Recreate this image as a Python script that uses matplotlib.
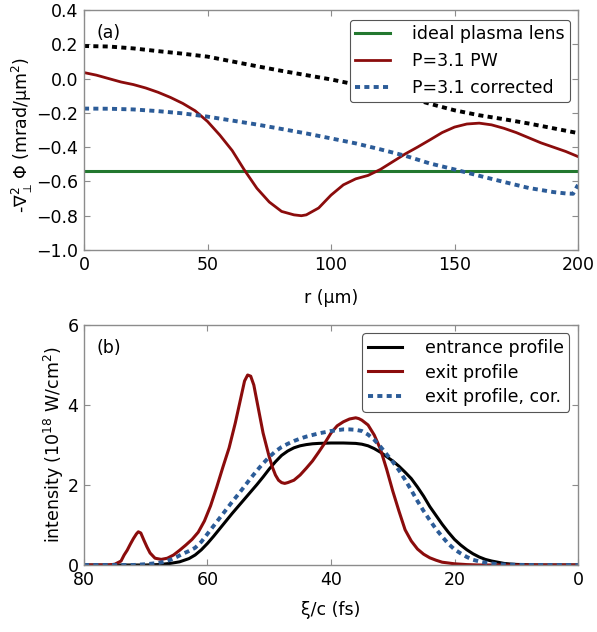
import matplotlib
matplotlib.use("Agg")
import matplotlib.pyplot as plt
import numpy as np

# ---------------- Panel (a) data ----------------
r_black = [0, 10, 20, 30, 40, 50, 60, 70, 80, 90, 100, 110, 120, 130, 140, 150, 160, 170, 180, 190, 200]
phi_black = [0.19, 0.187, 0.176, 0.16, 0.145, 0.128, 0.10, 0.072, 0.045, 0.02, -0.005, -0.035, -0.068,
             -0.105, -0.147, -0.185, -0.214, -0.237, -0.262, -0.29, -0.318]

r_red = [0, 5, 10, 15, 20, 25, 30, 35, 40, 45, 50, 55, 60, 65, 70, 75, 80, 85, 88, 90, 95, 100,
         105, 110, 115, 120, 125, 130, 135, 140, 145, 150, 155, 160, 165, 170, 175, 180, 185, 190, 195, 200]
phi_red = [0.035, 0.02, 0.0, -0.02, -0.035, -0.055, -0.08, -0.11, -0.145, -0.188, -0.25, -0.33, -0.42,
           -0.535, -0.64, -0.72, -0.775, -0.795, -0.80, -0.795, -0.755, -0.68, -0.62, -0.585, -0.565,
           -0.53, -0.485, -0.44, -0.40, -0.358, -0.315, -0.283, -0.265, -0.26, -0.27, -0.29, -0.315,
           -0.345, -0.375, -0.40, -0.425, -0.455]

r_blue = [0, 10, 20, 30, 40, 50, 60, 70, 80, 90, 100, 110, 120, 130, 140, 150, 160, 170, 180, 190, 195, 198, 200]
phi_blue = [-0.175, -0.176, -0.18, -0.19, -0.203, -0.222, -0.245, -0.268, -0.294, -0.32, -0.349, -0.378,
            -0.413, -0.45, -0.495, -0.53, -0.567, -0.603, -0.638, -0.662, -0.67, -0.672, -0.62]

ideal_lens = -0.54

# ---------------- Panel (b) data ----------------
xi_entr = [80, 70, 68, 66, 64.5, 63, 62, 61, 60, 59, 58, 57, 56, 55, 54, 53, 52, 51, 50, 49, 48, 47, 46, 45,
           44, 43, 42, 40, 38, 36, 35, 34, 33, 32, 31, 30, 29, 28, 27, 26, 25, 24, 23, 22, 21, 20, 19, 18,
           17, 16, 15, 14, 13, 12, 11, 10, 8, 6, 0]
I_entr = [0, 0, 0.01, 0.04, 0.08, 0.16, 0.25, 0.38, 0.54, 0.72, 0.91, 1.10, 1.29, 1.47, 1.65, 1.83, 2.01,
          2.20, 2.40, 2.58, 2.74, 2.85, 2.93, 2.98, 3.01, 3.03, 3.04, 3.05, 3.05, 3.04, 3.02, 2.98, 2.91,
          2.82, 2.71, 2.60, 2.47, 2.32, 2.16, 1.95, 1.72, 1.46, 1.24, 1.02, 0.82, 0.64, 0.50, 0.38, 0.28,
          0.20, 0.14, 0.10, 0.07, 0.04, 0.025, 0.015, 0.005, 0, 0]

xi_exit = [80, 76, 75, 74, 73.5, 73, 72.5, 72, 71.5, 71.2, 70.8, 70.3, 69.8, 69.3, 68.5, 67.5, 66.5, 65.5,
           64.5, 63.5, 62.5, 61.5, 60.5, 59.5, 58.5, 57.5, 56.5, 55.5, 54.5, 54, 53.5, 53, 52.5, 52, 51.5,
           51, 50.5, 50, 49.5, 49, 48.5, 48, 47.5, 47, 46, 45, 44, 43, 42, 41, 40, 39, 38, 37, 36, 35.5,
           35, 34, 33, 32, 31, 30, 29, 28, 27, 26, 25, 24, 23, 22, 21, 20, 19, 18, 16, 0]
I_exit = [0, 0, 0.02, 0.10, 0.25, 0.37, 0.52, 0.66, 0.78, 0.83, 0.80, 0.62, 0.45, 0.30, 0.17, 0.14, 0.17,
          0.25, 0.37, 0.50, 0.64, 0.82, 1.10, 1.48, 1.95, 2.45, 2.93, 3.55, 4.25, 4.60, 4.75, 4.72, 4.50,
          4.10, 3.70, 3.30, 3.00, 2.70, 2.45, 2.25, 2.12, 2.06, 2.04, 2.06, 2.12, 2.25, 2.42, 2.60, 2.82,
          3.05, 3.30, 3.48, 3.58, 3.65, 3.68, 3.66, 3.62, 3.50, 3.25, 2.90, 2.40, 1.85, 1.35, 0.88, 0.60,
          0.40, 0.27, 0.18, 0.12, 0.07, 0.05, 0.03, 0.02, 0.01, 0, 0]

xi_cor = [80, 72, 70, 68, 67, 66, 65, 64, 63, 62, 61, 60, 59, 58, 57, 56, 55, 54, 53, 52, 51, 50, 49, 48,
          47, 46, 45, 44, 43, 42, 41, 40, 39, 38, 37, 36, 35, 34, 33, 32, 31, 30, 29, 28, 27, 26, 25, 24,
          23, 22, 21, 20, 19, 18, 17, 16, 15, 14, 13, 12, 10, 8, 0]
I_cor = [0, 0, 0.02, 0.05, 0.08, 0.13, 0.20, 0.28, 0.35, 0.43, 0.58, 0.78, 0.98, 1.18, 1.38, 1.58, 1.77,
         1.97, 2.17, 2.36, 2.54, 2.70, 2.84, 2.95, 3.03, 3.10, 3.16, 3.21, 3.25, 3.29, 3.32, 3.35, 3.37,
         3.39, 3.39, 3.38, 3.35, 3.26, 3.13, 2.96, 2.77, 2.58, 2.37, 2.13, 1.87, 1.60, 1.35, 1.12, 0.90,
         0.71, 0.53, 0.39, 0.29, 0.20, 0.13, 0.09, 0.06, 0.04, 0.02, 0.012, 0.005, 0, 0]

# ---------------- styling ----------------
C_GREEN = '#23782f'
C_RED = '#8b0c0c'
C_BLUE = '#2c5c98'
SPINE = '#8c8c8c'
FS = 12.5

plt.rcParams['font.family'] = ['DejaVu Sans']
plt.rcParams['mathtext.fontset'] = 'dejavusans'

fig = plt.figure(figsize=(5.97, 6.32), dpi=100)
ax1 = fig.add_axes([84/597, 1-250/632, 494/597, 240/632])
ax2 = fig.add_axes([84/597, 1-565/632, 494/597, 240/632])


def style_axes(ax):
    for s in ax.spines.values():
        s.set_color(SPINE)
        s.set_linewidth(1.0)
    ax.tick_params(direction='in', top=True, right=True, length=4, width=0.8,
                   color=SPINE, labelsize=FS, pad=4)


def style_legend(leg):
    fr = leg.get_frame()
    fr.set_edgecolor('#555555')
    fr.set_linewidth(0.8)
    fr.set_alpha(1.0)
    fr.set_facecolor('white')


dash = (0, (1.3, 1.1))

ax1.axhline(ideal_lens, color=C_GREEN, lw=2.2, label='ideal plasma lens')
ax1.plot(r_red, phi_red, color=C_RED, lw=2.0, label='P=3.1 PW')
ax1.plot(r_blue, phi_blue, color=C_BLUE, lw=2.8, ls=dash, label='P=3.1 corrected')
ax1.plot(r_black, phi_black, color='black', lw=2.8, ls=dash)
ax1.set_xlim(0, 200)
ax1.set_ylim(-1.0, 0.4)
ax1.set_xticks([0, 50, 100, 150, 200])
ax1.set_yticks(np.arange(-1.0, 0.41, 0.2))
ax1.set_xlabel('r (μm)', fontsize=FS, labelpad=11)
ax1.set_ylabel(r'-$\nabla_{\perp}^{2}\,\Phi$ (mrad/μm$^2$)', fontsize=FS)
ax1.yaxis.set_label_coords(-0.10, 0.48)
ax1.text(0.026, 0.905, '(a)', transform=ax1.transAxes, fontsize=FS, ha='left', va='center')
style_axes(ax1)
leg1 = ax1.legend(loc='upper right', bbox_to_anchor=(0.984, 0.96), fontsize=FS, frameon=True,
                  fancybox=True, framealpha=1.0, handlelength=2.0, handletextpad=1.3, borderpad=0.3,
                  labelspacing=0.52, borderaxespad=0)
style_legend(leg1)

ax2.plot(xi_entr, I_entr, color='black', lw=2.2, label='entrance profile')
ax2.plot(xi_exit, I_exit, color=C_RED, lw=2.2, label='exit profile')
ax2.plot(xi_cor, I_cor, color=C_BLUE, lw=2.8, ls=dash, label='exit profile, cor.')
ax2.set_xlim(80, 0)
ax2.set_ylim(0, 6)
ax2.set_xticks([80, 60, 40, 20, 0])
ax2.set_yticks([0, 2, 4, 6])
ax2.set_xlabel('ξ/c (fs)', fontsize=FS, labelpad=9)
ax2.set_ylabel(r'intensity (10$^{18}$ W/cm$^2$)', fontsize=FS)
ax2.yaxis.set_label_coords(-0.036, 0.5)
ax2.text(0.026, 0.905, '(b)', transform=ax2.transAxes, fontsize=FS, ha='left', va='center')
style_axes(ax2)
leg2 = ax2.legend(loc='upper right', bbox_to_anchor=(0.982, 0.965), fontsize=FS, frameon=True,
                  fancybox=True, framealpha=1.0, handlelength=2.0, handletextpad=1.3, borderpad=0.3,
                  labelspacing=0.4, borderaxespad=0)
style_legend(leg2)

fig.savefig('out.png', dpi=100, facecolor='white')
